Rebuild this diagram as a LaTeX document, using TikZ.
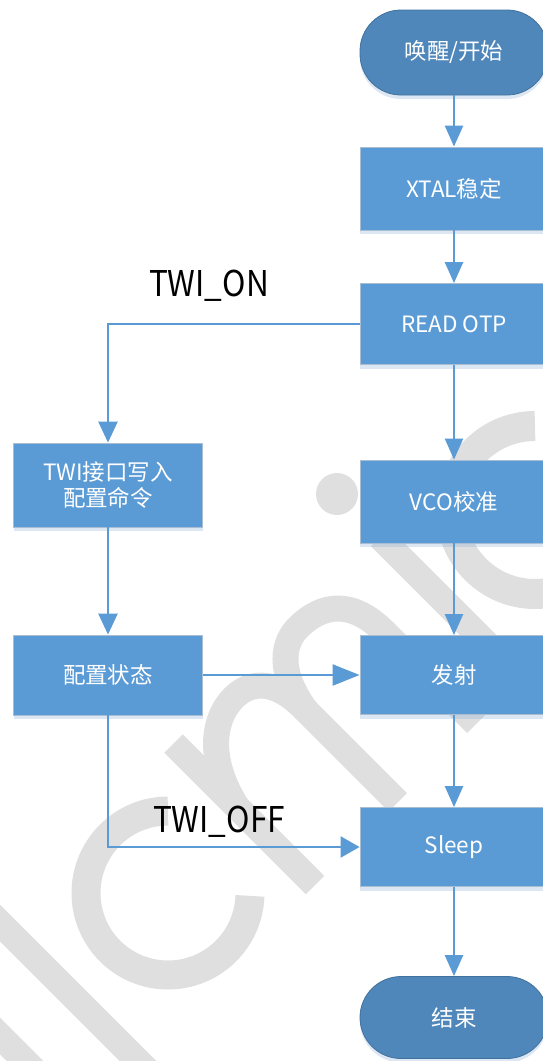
\documentclass[tikz,border=0pt]{standalone}
\usepackage{fontspec}
\setmainfont{Noto Sans CJK SC}
\newfontfamily\lblfont[FakeStretch=0.89]{Noto Sans CJK SC}
\usetikzlibrary{arrows.meta,shadows}
\definecolor{boxblue}{HTML}{5B9BD5}
\definecolor{termblue}{HTML}{4F87BA}
\definecolor{termedge}{HTML}{41719C}
\definecolor{boxedge}{HTML}{A9BDD3}
\definecolor{linkblue}{HTML}{5B9BD5}
\definecolor{wm}{HTML}{DFDFDF}
\definecolor{shadowc}{HTML}{8FB0D6}
\begin{document}
\begin{tikzpicture}[x=1pt,y=-1pt,
  stepbox/.style={rectangle, fill=boxblue, draw=boxedge, line width=0.8pt, text=white,
    font=\fontsize{22.5}{26}\selectfont, minimum width=188pt, inner sep=0pt, align=center,
    drop shadow={shadow xshift=0pt, shadow yshift=-4pt, opacity=0.3, fill=shadowc}},
  termbox/.style={rectangle, rounded corners=41pt, fill=termblue, draw=termedge, line width=0.8pt,
    text=white, font=\fontsize{22.5}{26}\selectfont, minimum width=188pt, inner sep=0pt,
    drop shadow={shadow xshift=0pt, shadow yshift=-4pt, opacity=0.3, fill=shadowc}},
  link/.style={draw=linkblue, line width=2.4pt, -{Triangle[length=21pt,width=18pt]}},
  lbl/.style={font=\lblfont\fontsize{35.5}{40}\selectfont, text=black, inner sep=0pt},
  wmline/.style={draw=wm, line width=26pt}]
\useasboundingbox (0,0) rectangle (542,1061);

% ---- watermark ----
\draw[wmline] (-30,893) -- (180,1103);
\draw[wmline] (-30,1006) -- (90,1126);
\draw[wmline, line width=29pt] (168,811) arc[start angle=90, end angle=358, radius=82pt];
\draw[wmline, line width=30pt] (535,426) arc[start angle=90, end angle=360, radius=84pt];
\fill[wm] (337,494) circle[radius=21pt];
\draw[wmline] (380,537) -- (522,679);
\begin{scope}[shift={(315,885)}, x={(0.7071pt,0.7071pt)}, y={(-0.7071pt,0.7071pt)}]
  \draw[wmline] (0,0) -- (0,200);
  \draw[wmline] (0,110) .. controls (12,165) and (45,190) .. (75,190)
     .. controls (100,190) and (117,172) .. (117,135) -- (117,0);
  \draw[wmline] (117,130) .. controls (125,180) and (150,194) .. (170,194)
     .. controls (205,194) and (228,175) .. (228,130) -- (228,0);
\end{scope}

% ---- nodes ----
\node[termbox, minimum height=85pt] (start) at (454,52.5) {唤醒/开始};
\node[stepbox, minimum height=83pt] (xtal) at (454,188.5) {XTAL稳定};
\node[stepbox, minimum height=81pt] (otp) at (454,324) {READ OTP};
\node[stepbox, minimum height=83pt] (vco) at (454,501.5) {VCO校准};
\node[stepbox, minimum height=79pt] (tx) at (454,675) {发射};
\node[stepbox, minimum height=79pt] (sleep) at (454,847) {Sleep};
\node[termbox, minimum height=82pt] (fin) at (454,1017.5) {结束};
\node[stepbox, minimum width=189pt, minimum height=84pt] (twi) at (108,485) {TWI接口写入\\配置命令};
\node[stepbox, minimum width=189pt, minimum height=80pt] (cfg) at (108,675) {配置状态};

\node[lbl, anchor=base] (lon) at (209,296) {TWI\_ON};
\node[lbl, anchor=base] (loff) at (219,832) {TWI\_OFF};

% ---- connectors ----
\draw[link] (start) -- (xtal);
\draw[link] (xtal) -- (otp);
\draw[link] (otp) -- (vco);
\draw[link] (vco) -- (tx);
\draw[link] (tx) -- (sleep);
\draw[link] (sleep) -- (fin);
\draw[link, -{Triangle[length=21pt,width=19pt]}] (otp.west) -| (twi.north);
\draw[link, -{Triangle[length=21pt,width=19pt]}] (twi) -- (cfg);
\draw[link, -{Triangle[length=27pt,width=21pt]}] (cfg.east) -- (tx.west);
\draw[link, -{Triangle[length=19pt,width=21pt]}] (cfg.south) |- (sleep.west);
\end{tikzpicture}
\end{document}
